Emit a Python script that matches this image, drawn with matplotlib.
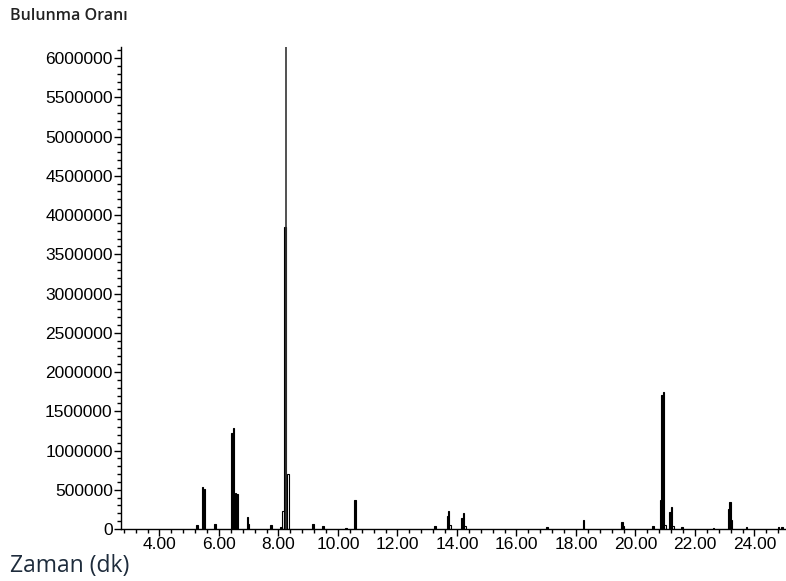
import matplotlib.pyplot as plt
import numpy as np
from matplotlib.ticker import MultipleLocator, FormatStrFormatter

# retention time (min) and abundance of the filled peaks
solid_t = [5.26, 5.45, 5.51, 5.86, 6.44, 6.49, 6.56, 6.60, 6.96, 7.00, 7.75, 8.08,
           8.22, 9.16, 9.50, 10.27, 10.58, 13.26, 13.68, 13.72, 14.17, 14.22, 17.03,
           18.26, 19.55, 20.59, 20.90, 20.94, 21.16, 21.21, 21.56, 22.63, 23.13,
           23.17, 23.73, 24.80, 24.92]
solid_h = [45000, 535000, 510000, 70000, 1220000, 1290000, 460000, 440000, 150000,
           60000, 45000, 30000, 3850000, 65000, 35000, 15000, 370000, 35000, 170000,
           225000, 140000, 205000, 25000, 110000, 85000, 40000, 1710000, 1750000,
           215000, 280000, 25000, 15000, 255000, 340000, 30000, 20000, 20000]

# outlined (unfilled) peaks
hollow_t = [8.15, 8.32, 13.77, 14.27, 19.60, 20.84, 21.00, 21.26, 23.23]
hollow_h = [230000, 700000, 50000, 40000, 40000, 370000, 50000, 40000, 115000]

# thin top of the main peak
spike_t = [8.26]
spike_h = [6140000]

y_ticks = np.arange(0, 6000001, 500000)
x_ticks = np.arange(4, 25, 2)

fig = plt.figure(figsize=(7.86, 5.81), dpi=100)
ax = fig.add_axes([0.154, 0.0895, 0.846, 0.8295])

ax.bar(hollow_t, hollow_h, width=0.06, color='white', edgecolor='black', linewidth=0.8, zorder=2)
ax.bar(solid_t, solid_h, width=0.05, color='black', edgecolor='black', linewidth=0.8, zorder=3)
ax.vlines(spike_t, 0, spike_h, color='#333333', linewidth=1.2, zorder=3)

ax.set_xlim(2.71, 25.06)
ax.set_ylim(0, 6140000)

for s in ['top', 'right']:
    ax.spines[s].set_visible(False)
for s in ['left', 'bottom']:
    ax.spines[s].set_color('black')
    ax.spines[s].set_linewidth(1.0)

ax.set_xticks(x_ticks)
ax.xaxis.set_major_formatter(FormatStrFormatter('%.2f'))
ax.xaxis.set_minor_locator(MultipleLocator(0.4))
ax.set_yticks(y_ticks)
ax.set_yticklabels([str(v) for v in y_ticks])
ax.yaxis.set_minor_locator(MultipleLocator(100000))

ax.tick_params(axis='both', which='major', direction='out', length=5, width=1,
               labelsize=12.5, colors='black', pad=1)
ax.tick_params(axis='both', which='minor', direction='out', length=3, width=1)
for lab in ax.get_xticklabels() + ax.get_yticklabels():
    lab.set_family('Liberation Sans')

fig.text(0.013, 0.972, 'Bulunma Oranı', fontsize=11.5, family='Open Sans',
         fontweight='semibold', color='#222222', va='center', ha='left')
fig.text(0.013, 0.026, 'Zaman (dk)', fontsize=16.5, family='Open Sans',
         color='#1e2c3c', va='center', ha='left')

fig.savefig('out.png', dpi=100)
